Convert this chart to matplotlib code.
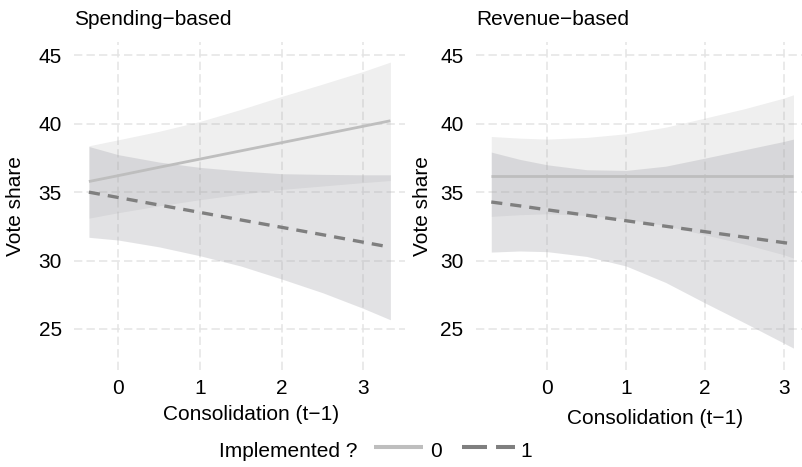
import matplotlib
matplotlib.use("Agg")
import matplotlib.pyplot as plt
from matplotlib.lines import Line2D

plt.rcParams['font.family'] = ['Liberation Sans', 'DejaVu Sans']
plt.rcParams['lines.scale_dashes'] = False

# ---------------- data ----------------
panel_titles = ["Spending\u2212based", "Revenue\u2212based"]
x_label = "Consolidation (t\u22121)"
y_label = "Vote share"
legend_title = "Implemented ?"
legend_labels = ["0", "1"]
x_ticks = [0, 1, 2, 3]
y_ticks = [25, 30, 35, 40, 45]

# Spending-based panel
sp_x = [-0.36, 0.0, 0.5, 1.0, 1.5, 2.0, 2.5, 3.0, 3.33]
sp_fit0 = [35.78, 36.21, 36.82, 37.42, 38.02, 38.62, 39.22, 39.82, 40.22]
sp_hi0 = [38.39, 38.83, 39.45, 40.17, 41.05, 42.00, 42.90, 43.83, 44.51]
sp_lo0 = [33.10, 33.50, 34.00, 34.45, 34.85, 35.20, 35.45, 35.70, 35.85]
sp_fit1 = [35.00, 34.61, 34.06, 33.52, 32.97, 32.43, 31.89, 31.34, 30.98]
sp_hi1 = [38.34, 37.74, 37.20, 36.81, 36.55, 36.35, 36.30, 36.27, 36.27]
sp_lo1 = [31.70, 31.50, 31.00, 30.35, 29.60, 28.65, 27.65, 26.50, 25.67]

# Revenue-based panel
rv_x = [-0.71, -0.35, 0.0, 0.5, 1.0, 1.5, 2.0, 2.5, 3.0, 3.12]
rv_fit0 = [36.15, 36.15, 36.15, 36.15, 36.15, 36.15, 36.15, 36.15, 36.15, 36.15]
rv_hi0 = [39.07, 38.95, 38.88, 39.00, 39.27, 39.75, 40.42, 41.10, 41.88, 42.12]
rv_lo0 = [33.23, 33.35, 33.42, 33.30, 33.03, 32.55, 31.88, 31.20, 30.42, 30.18]
rv_fit1 = [34.28, 34.00, 33.71, 33.31, 32.91, 32.51, 32.11, 31.71, 31.31, 31.22]
rv_hi1 = [37.93, 37.40, 37.00, 36.64, 36.59, 36.90, 37.49, 38.10, 38.71, 38.88]
rv_lo1 = [30.62, 30.70, 30.65, 30.30, 29.60, 28.40, 26.90, 25.45, 23.96, 23.60]

# ---------------- style ----------------
W, H = 802, 467
FS = 15
col0 = "#BEBEBE"
col1 = "#7F7F7F"
rib0 = (165/255, 165/255, 165/255)
rib1 = (165/255, 165/255, 172/255)
grid_col = "#E4E4E4"
dash1 = (8.0, 5.8)

fig = plt.figure(figsize=(W/100, H/100), dpi=100)

def fx(px):
    return px / W

def fy(py):
    return 1 - py / H

top, bot = 41.7, 370
ax1 = fig.add_axes([fx(73.8), fy(bot), (405.5 - 73.8) / W, (bot - top) / H])
ax2 = fig.add_axes([fx(475.8), fy(bot), (808.6 - 475.8) / W, (bot - top) / H])

panels = [
    (ax1, sp_x, sp_fit0, sp_lo0, sp_hi0, sp_fit1, sp_lo1, sp_hi1, (-0.545, 3.515), 8.5),
    (ax2, rv_x, rv_fit0, rv_lo0, rv_hi0, rv_fit1, rv_lo1, rv_hi1, (-0.906, 3.312), 8.8),
]

for ax, x, f0, l0, h0, f1, l1, h1, xl, ypad in panels:
    ax.set_xlim(*xl)
    ax.set_ylim(22.0, 46.0)
    for s in ax.spines.values():
        s.set_visible(False)
    for yv in y_ticks:
        ax.axhline(yv, color=grid_col, lw=1.1, dashes=(6.0, 3.0), zorder=0)
    for xv in x_ticks:
        ax.axvline(xv, color=grid_col, lw=1.1, dashes=(6.0, 3.0), zorder=0)
    ax.fill_between(x, l0, h0, color=rib0, alpha=0.178, lw=0, zorder=1)
    ax.fill_between(x, l1, h1, color=rib1, alpha=0.3125, lw=0, zorder=2)
    ax.plot(x, f0, color=col0, lw=2.0, solid_capstyle='butt', zorder=3)
    ax.plot(x, f1, color=col1, lw=2.4, dashes=dash1, dash_capstyle='butt', zorder=4)
    ax.set_xticks(x_ticks)
    ax.set_yticks(y_ticks)
    ax.set_xticklabels([str(v) for v in x_ticks])
    ax.set_yticklabels([str(v) for v in y_ticks])
    ax.tick_params(axis='both', length=0, labelsize=FS, labelcolor='black')
    ax.tick_params(axis='x', pad=6.5)
    ax.tick_params(axis='y', pad=ypad)
    ax.set_facecolor('none')

# titles
fig.text(fx(74), fy(25), panel_titles[0], ha='left', va='baseline', fontsize=FS)
fig.text(fx(476.7), fy(25), panel_titles[1], ha='left', va='baseline', fontsize=FS)

# axis labels
fig.text(fx(251.5), fy(420), x_label, ha='center', va='baseline', fontsize=FS)
fig.text(fx(655), fy(424), x_label, ha='center', va='baseline', fontsize=FS)
fig.text(fx(16), fy(206), y_label, ha='center', va='center', rotation=90, fontsize=FS)
fig.text(fx(423), fy(206), y_label, ha='center', va='center', rotation=90, fontsize=FS)

# legend
fig.text(fx(219.3), fy(457), legend_title, ha='left', va='baseline', fontsize=FS)
fig.add_artist(Line2D([fx(374), fx(423)], [fy(447), fy(447)], color=col0, lw=2.9,
                      solid_capstyle='butt', transform=fig.transFigure))
fig.text(fx(430), fy(457), legend_labels[0], ha='left', va='baseline', fontsize=FS)
fig.add_artist(Line2D([fx(462), fx(515)], [fy(447), fy(447)], color=col1, lw=2.9,
                      dashes=(18.0, 6.5), dash_capstyle='butt', transform=fig.transFigure))
fig.text(fx(520), fy(457), legend_labels[1], ha='left', va='baseline', fontsize=FS)

fig.savefig("out.png", dpi=100)
